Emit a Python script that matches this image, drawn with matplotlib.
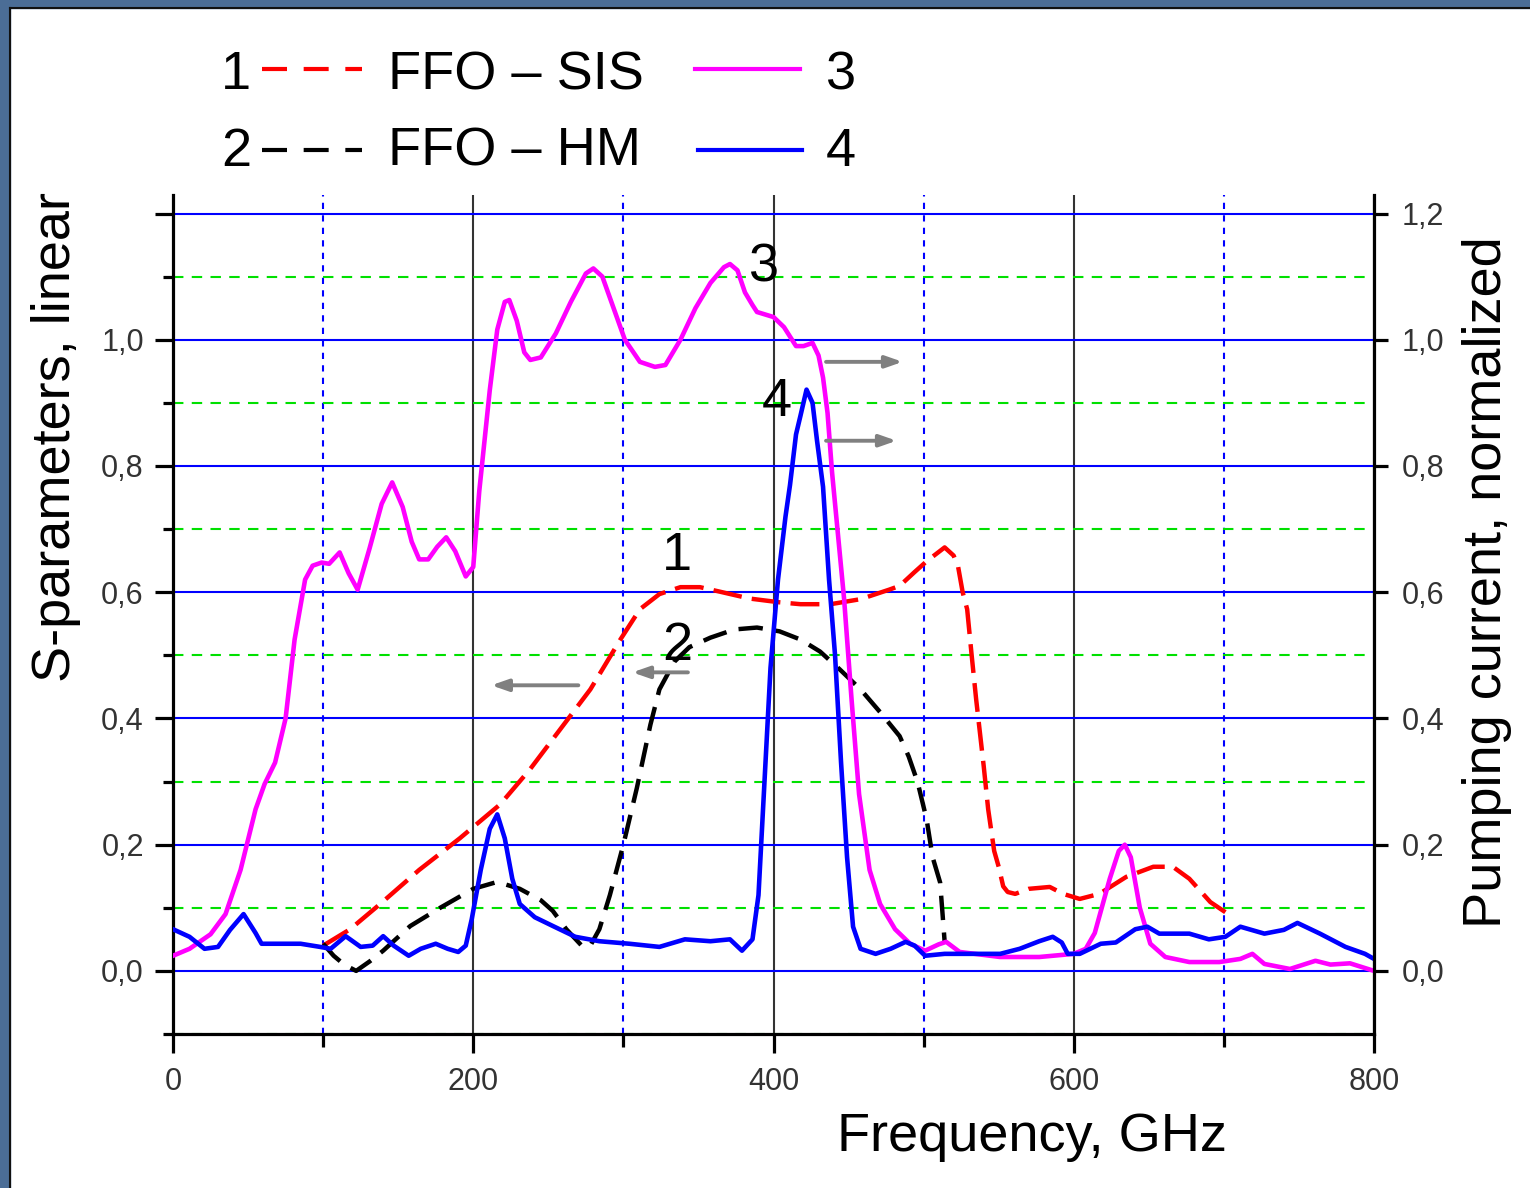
import matplotlib
matplotlib.use("Agg")
import matplotlib.pyplot as plt
from matplotlib.lines import Line2D
from matplotlib.patches import Rectangle

plt.rcParams['font.family'] = ['Liberation Sans', 'DejaVu Sans']

# curve 1: FFO - SIS (left axis)
x1 = [100, 118, 138, 164, 191, 218, 238, 258, 278, 298, 311, 324, 338, 351, 364, 384,
      404, 418, 438, 458, 477, 484, 494, 502, 508, 514, 520, 523, 526, 529, 532, 535,
      540, 543, 547, 550, 553, 556, 561, 570, 584, 593, 604, 617, 635, 653, 666, 677,
      691, 701]
y1 = [0.04, 0.066, 0.106, 0.16, 0.21, 0.264, 0.32, 0.383, 0.446, 0.525, 0.573, 0.597,
      0.608, 0.608, 0.601, 0.59, 0.584, 0.581, 0.581, 0.589, 0.604, 0.61, 0.632, 0.649,
      0.66, 0.671, 0.658, 0.64, 0.6, 0.573, 0.5, 0.43, 0.325, 0.256, 0.19, 0.165, 0.134,
      0.125, 0.122, 0.13, 0.133, 0.122, 0.114, 0.122, 0.149, 0.165, 0.165, 0.146, 0.109,
      0.093]

# curve 2: FFO - HM (left axis)
x2 = [100, 107, 114, 122, 131, 140, 158, 178, 200, 216, 231, 245, 253, 262, 273, 278,
      284, 291, 300, 309, 318, 324, 334, 344, 358, 374, 389, 404, 418, 431, 444, 458,
      471, 484, 490, 496, 502, 506, 511, 513, 514]
y2 = [0.043, 0.024, 0.01, 0.0, 0.015, 0.032, 0.071, 0.1, 0.13, 0.141, 0.13, 0.112, 0.095,
      0.066, 0.038, 0.04, 0.066, 0.12, 0.2, 0.29, 0.39, 0.446, 0.49, 0.513, 0.528, 0.541,
      0.544, 0.538, 0.525, 0.506, 0.478, 0.446, 0.41, 0.372, 0.34, 0.299, 0.24, 0.18,
      0.14, 0.078, 0.046]

# curve 3: pumping current (right axis)
x3 = [0, 11, 25, 35, 45, 55, 61, 68, 75, 81, 88, 93, 99, 104, 111, 117, 123, 131, 139,
      146, 153, 159, 164, 170, 176, 182, 188, 195, 200, 204, 211, 216, 221, 224, 229,
      234, 238, 245, 255, 265, 275, 280, 286, 292, 301, 311, 321, 328, 338, 348, 358,
      367, 371, 376, 381, 386, 389, 400, 407, 415, 420, 426, 430, 433, 436, 439, 443,
      447, 452, 457, 464, 471, 481, 491, 501, 510, 515, 524, 551, 577, 600, 608, 614,
      624, 630, 634, 638, 644, 651, 661, 677, 697, 711, 719, 727, 744, 761, 771, 784,
      800]
y3 = [0.024, 0.035, 0.058, 0.09, 0.16, 0.256, 0.296, 0.33, 0.40, 0.525, 0.62, 0.642,
      0.647, 0.645, 0.663, 0.63, 0.604, 0.67, 0.74, 0.774, 0.735, 0.68, 0.652, 0.652,
      0.672, 0.687, 0.665, 0.625, 0.64, 0.76, 0.92, 1.016, 1.06, 1.063, 1.03, 0.98,
      0.968, 0.972, 1.01, 1.06, 1.105, 1.113, 1.10, 1.06, 1.0, 0.965, 0.957, 0.96, 1.0,
      1.05, 1.09, 1.115, 1.12, 1.11, 1.075, 1.055, 1.044, 1.036, 1.02, 0.99, 0.99, 0.995,
      0.975, 0.94, 0.884, 0.79, 0.69, 0.59, 0.43, 0.28, 0.16, 0.106, 0.066, 0.043, 0.032,
      0.042, 0.046, 0.03, 0.022, 0.022, 0.027, 0.035, 0.06, 0.146, 0.19, 0.2, 0.18, 0.1,
      0.043, 0.022, 0.014, 0.014, 0.019, 0.027, 0.011, 0.003, 0.016, 0.01, 0.012, 0.0]

# curve 4: pumping current (right axis)
x4 = [0, 11, 21, 30, 38, 47, 55, 59, 70, 85, 98, 105, 115, 125, 133, 140, 147, 157, 165,
      175, 183, 190, 195, 199, 205, 211, 216, 221, 226, 231, 241, 254, 268, 284, 304,
      324, 341, 358, 371, 379, 386, 390, 394, 398, 403, 408, 411, 415, 418, 422, 426,
      429, 433, 437, 441, 445, 449, 453, 458, 468, 478, 488, 494, 501, 514, 531, 551,
      564, 577, 586, 592, 596, 604, 618, 628, 641, 649, 657, 677, 690, 701, 711, 727,
      740, 749, 764, 781, 794, 800]
y4 = [0.066, 0.054, 0.035, 0.038, 0.065, 0.09, 0.06, 0.043, 0.043, 0.043, 0.038, 0.035,
      0.055, 0.038, 0.04, 0.055, 0.04, 0.024, 0.035, 0.043, 0.035, 0.03, 0.04, 0.082,
      0.16, 0.225, 0.248, 0.21, 0.146, 0.106, 0.085, 0.07, 0.054, 0.047, 0.043, 0.038,
      0.05, 0.047, 0.05, 0.032, 0.05, 0.12, 0.3, 0.48, 0.62, 0.72, 0.77, 0.85, 0.88,
      0.921, 0.9, 0.84, 0.767, 0.62, 0.5, 0.33, 0.18, 0.07, 0.035, 0.027, 0.035, 0.046,
      0.04, 0.024, 0.027, 0.027, 0.027, 0.035, 0.047, 0.054, 0.045, 0.027, 0.027, 0.043,
      0.045, 0.066, 0.07, 0.059, 0.059, 0.05, 0.054, 0.07, 0.059, 0.065, 0.076, 0.059,
      0.038, 0.027, 0.019]

left_ticks = [0.0, 0.2, 0.4, 0.6, 0.8, 1.0, 1.2]
left_labels = ['0,0', '0,2', '0,4', '0,6', '0,8', '1,0', '']
right_labels = ['0,0', '0,2', '0,4', '0,6', '0,8', '1,0', '1,2']
x_ticks = [0, 200, 400, 600, 800]

W, H = 1530, 1188
fig = plt.figure(figsize=(15.3, 11.88), dpi=100)

# blue frame on the left and top
fig.patches.append(Rectangle((0, 0), 10 / W, 1, transform=fig.transFigure,
                             color='#4b6d96', zorder=0))
fig.patches.append(Rectangle((0, 1 - 8 / H), 1, 8 / H, transform=fig.transFigure,
                             color='#4b6d96', zorder=0))
fig.add_artist(Line2D([10 / W, 10 / W], [0, 1 - 8 / H], transform=fig.transFigure,
                      color='#111111', lw=1.5))
fig.add_artist(Line2D([10 / W, 1], [1 - 8 / H, 1 - 8 / H], transform=fig.transFigure,
                      color='#111111', lw=1.5))

ax = fig.add_axes([173 / W, 1 - 1034 / H, (1374 - 173) / W, (1034 - 194.6) / H])
ax.set_xlim(0, 800)
ax.set_ylim(-0.1, 1.23)

ax.set_xticks(x_ticks)
ax.set_xticklabels([str(v) for v in x_ticks])
ax.set_xticks([100, 300, 500, 700], minor=True)
ax.set_yticks(left_ticks)
ax.set_yticklabels(left_labels)
ax.set_yticks([-0.1, 0.1, 0.3, 0.5, 0.7, 0.9, 1.1], minor=True)

ax.set_axisbelow(True)
ax.grid(which='major', axis='x', color='#333333', lw=1.5, ls='-')
ax.grid(which='minor', axis='x', color='#0000ff', lw=1.5, ls=(0, (3, 3)))
ax.grid(which='major', axis='y', color='#0000ff', lw=1.5, ls='-')
ax.grid(which='minor', axis='y', color='#00e000', lw=1.5, ls=(0, (5, 4)))

ax.tick_params(axis='x', which='major', length=14, width=2.3, pad=10,
               labelsize=22, labelcolor='#333333')
ax.tick_params(axis='x', which='minor', length=9, width=2.3)
ax.tick_params(axis='y', which='major', length=13, width=2.3, pad=8,
               labelsize=22, labelcolor='#333333')
ax.tick_params(axis='y', which='minor', length=7, width=2.3)
for s in ['top', 'right']:
    ax.spines[s].set_visible(False)
for s in ['left', 'bottom']:
    ax.spines[s].set_linewidth(2.3)

ax.plot(x1, y1, color='#ff0000', lw=3.2, dashes=(6.5, 2.3))
ax.plot(x2, y2, color='black', lw=3.2, dashes=(5.5, 2.8))

ax2 = ax.twinx()
ax2.set_ylim(-0.1, 1.23)
ax2.set_yticks(left_ticks)
ax2.set_yticklabels(right_labels)
ax2.tick_params(axis='y', which='major', length=10, width=2.3, pad=10,
                labelsize=22, labelcolor='#333333')
for s in ['top', 'left', 'bottom']:
    ax2.spines[s].set_visible(False)
ax2.spines['right'].set_linewidth(2.3)

ax2.plot(x3, y3, color='#ff00ff', lw=3.3)
ax2.plot(x4, y4, color='#0000ff', lw=3.3)

# curve numbers
ax2.text(394, 1.114, '3', fontsize=39, ha='center', va='center')
ax2.text(402, 0.902, '4', fontsize=39, ha='center', va='center')
ax2.text(336, 0.658, '1', fontsize=39, ha='center', va='center')
ax2.text(336, 0.514, '2', fontsize=39, ha='center', va='center')

# arrows pointing to the axes
arrow = dict(arrowstyle='-|>,head_length=1.0,head_width=0.35', color='#808080',
             lw=2.8, shrinkA=0, shrinkB=0)
ax2.annotate('', xy=(212, 0.4525), xytext=(270, 0.4525), arrowprops=arrow)
ax2.annotate('', xy=(306, 0.473), xytext=(343, 0.473), arrowprops=arrow)
ax2.annotate('', xy=(486, 0.965), xytext=(435, 0.965), arrowprops=arrow)
ax2.annotate('', xy=(482, 0.840), xytext=(435, 0.840), arrowprops=arrow)

# axis titles
fig.text(56 / W, 1 - 437 / H, 'S-parameters, linear', rotation=90,
         ha='center', va='center', fontsize=39)
fig.text(1487 / W, 1 - 582 / H, 'Pumping current, normalized', rotation=90,
         ha='center', va='center', fontsize=39)
fig.text(1032 / W, 1 - 1137 / H, 'Frequency, GHz', ha='center', va='center',
         fontsize=39)

# legend drawn by hand
fig.text(236 / W, 1 - 89 / H, '1', ha='center', va='baseline', fontsize=39)
fig.text(236 / W, 1 - 166 / H, '2', ha='center', va='baseline', fontsize=39)
fig.text(388 / W, 1 - 89 / H, 'FFO – SIS', ha='left', va='baseline', fontsize=39)
fig.text(388 / W, 1 - 166 / H, 'FFO – HM', ha='left', va='baseline', fontsize=39)
fig.text(841 / W, 1 - 89 / H, '3', ha='center', va='baseline', fontsize=39)
fig.text(841 / W, 1 - 166 / H, '4', ha='center', va='baseline', fontsize=39)
fig.add_artist(Line2D([262 / W, 362 / W], [1 - 69 / H] * 2, transform=fig.transFigure,
                      color='#ff0000', lw=3, dashes=(6, 4)))
fig.add_artist(Line2D([262 / W, 362 / W], [1 - 150 / H] * 2, transform=fig.transFigure,
                      color='black', lw=3, dashes=(6, 4)))
fig.add_artist(Line2D([695 / W, 800 / W], [1 - 69 / H] * 2, transform=fig.transFigure,
                      color='#ff00ff', lw=3))
fig.add_artist(Line2D([698 / W, 802 / W], [1 - 150 / H] * 2, transform=fig.transFigure,
                      color='#0000ff', lw=3))

fig.savefig('out.png', dpi=100)
